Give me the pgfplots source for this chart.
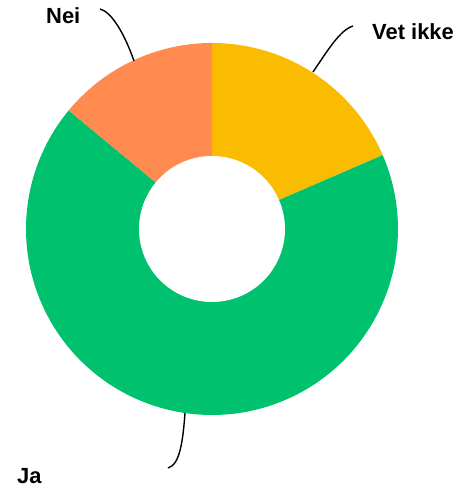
\documentclass[border=0pt]{standalone}
\usepackage{pgfplots}
\usepackage{pgfplotstable}
\usepackage{fontspec}
\setmainfont{Liberation Sans}
\pgfplotsset{compat=1.18}

\definecolor{cyellow}{HTML}{F9BC00}
\definecolor{cgreen}{HTML}{00C16E}
\definecolor{corange}{HTML}{FF8B50}

\tikzset{lbl/.style={font=\bfseries\fontsize{22}{26}\selectfont, inner sep=0pt, anchor=base west}}

% shares in percent, clockwise from 12 o'clock
\pgfplotstableread{
label value
VetIkke 18.5
Ja 67.5
Nei 14
}\piedata

\begin{document}
\begin{tikzpicture}
\pgfplotstablegetelem{0}{value}\of\piedata \let\vA\pgfplotsretval
\pgfplotstablegetelem{1}{value}\of\piedata \let\vB\pgfplotsretval
\pgfplotstablegetelem{2}{value}\of\piedata \let\vC\pgfplotsretval
\pgfmathsetmacro{\aA}{90}
\pgfmathsetmacro{\aB}{\aA-3.6*\vA}
\pgfmathsetmacro{\aC}{\aB-3.6*\vB}
\pgfmathsetmacro{\aD}{\aC-3.6*\vC}
\begin{axis}[
    scale only axis, width=463bp, height=489bp,
    xmin=0, xmax=463, ymin=0, ymax=489,
    axis lines=none, clip=false,
]
% keep the full frame in the bounding box
\path (0,0) rectangle (463,489);
% slices
\addplot[fill=cyellow, draw=none, domain=\aB:\aA, samples=80, variable=\t]
    ({212+186*cos(t)}, {260+186*sin(t)}) -- (212,260) -- cycle;
\addplot[fill=cgreen, draw=none, domain=\aC:\aB, samples=160, variable=\t]
    ({212+186*cos(t)}, {260+186*sin(t)}) -- (212,260) -- cycle;
\addplot[fill=corange, draw=none, domain=\aD:\aC, samples=60, variable=\t]
    ({212+186*cos(t)}, {260+186*sin(t)}) -- (212,260) -- cycle;
% hole
\addplot[fill=white, draw=none, domain=0:360, samples=120, variable=\t]
    ({212+73*cos(t)}, {260+73*sin(t)}) -- cycle;

% leader lines and labels
\draw[line width=1.4pt] (100,480) .. controls (112,477) and (125,454) .. (134,428);
\draw[line width=1.4pt] (313,417) .. controls (328,439) and (340,459) .. (353,463);
\draw[line width=1.4pt] (185,76) .. controls (183,49) and (180,24) .. (168,21);
\node[lbl] at (46,465) {Nei};
\node[lbl] at (372,449) {Vet ikke};
\node[lbl] at (17,6) {Ja};
\end{axis}
\end{tikzpicture}
\end{document}
